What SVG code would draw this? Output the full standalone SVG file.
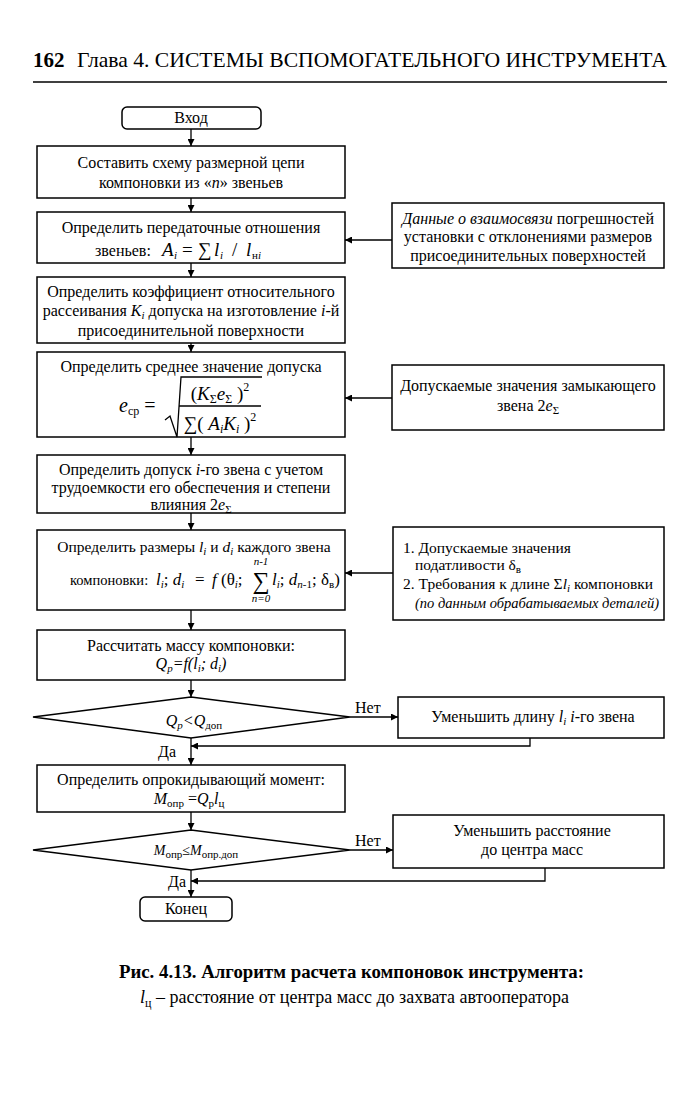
<svg xmlns="http://www.w3.org/2000/svg" width="694" height="1100" viewBox="0 0 694 1100">
<style>
text{font-family:"Liberation Serif","Times New Roman",serif;fill:#000}
.t{font-size:16px;text-anchor:middle}
.l{font-size:16px}
.it{font-style:italic}
.sub{font-size:11px}
.box{fill:#fff;stroke:#000;stroke-width:1.5}
.ln{fill:none;stroke:#000;stroke-width:1.3}
.m{font-size:19px}
</style>
<defs>
<marker id="ah" viewBox="0 0 10 10" refX="10" refY="5" markerWidth="8" markerHeight="7" markerUnits="userSpaceOnUse" orient="auto">
<path d="M0,0 L10,5 L0,10 z" fill="#000"/>
</marker>
</defs>
<rect width="694" height="1100" fill="#fff"/>
<g id="header">
<text x="33" y="67" style="font-size:21px;font-weight:bold">162</text>
<text x="77" y="67" style="font-size:21px" textLength="590" lengthAdjust="spacingAndGlyphs">Глава 4. СИСТЕМЫ ВСПОМОГАТЕЛЬНОГО ИНСТРУМЕНТА</text>
<line x1="33" y1="82" x2="667" y2="82" stroke="#000" stroke-width="1.5"/>
</g>
<g id="connectors">
<line class="ln" x1="191" y1="129" x2="191" y2="146" marker-end="url(#ah)"/>
<line class="ln" x1="191" y1="198" x2="191" y2="212" marker-end="url(#ah)"/>
<line class="ln" x1="191" y1="263" x2="191" y2="277" marker-end="url(#ah)"/>
<line class="ln" x1="191" y1="343" x2="191" y2="352" marker-end="url(#ah)"/>
<line class="ln" x1="191" y1="437" x2="191" y2="455" marker-end="url(#ah)"/>
<line class="ln" x1="191" y1="513" x2="191" y2="530" marker-end="url(#ah)"/>
<line class="ln" x1="191" y1="610" x2="191" y2="630" marker-end="url(#ah)"/>
<line class="ln" x1="191" y1="680" x2="191" y2="697" marker-end="url(#ah)"/>
<line class="ln" x1="191" y1="738" x2="191" y2="765" marker-end="url(#ah)"/>
<line class="ln" x1="191" y1="812" x2="191" y2="830" marker-end="url(#ah)"/>
<line class="ln" x1="191" y1="870" x2="191" y2="897" marker-end="url(#ah)"/>
<line class="ln" x1="392" y1="240" x2="345" y2="240" marker-end="url(#ah)"/>
<line class="ln" x1="392" y1="398" x2="345" y2="398" marker-end="url(#ah)"/>
<line class="ln" x1="393" y1="573" x2="345" y2="573" marker-end="url(#ah)"/>
<line class="ln" x1="350" y1="717" x2="398" y2="717" marker-end="url(#ah)"/>
<line class="ln" x1="350" y1="850" x2="393" y2="850" marker-end="url(#ah)"/>
<polyline class="ln" points="530,738 530,746 191,746" marker-end="url(#ah)"/>
<polyline class="ln" points="545,868 545,881 191,881" marker-end="url(#ah)"/>
<text class="l" x="355" y="713">Нет</text>
<text class="l" x="355" y="846">Нет</text>
<text class="l" x="158" y="757">Да</text>
<text class="l" x="168" y="887">Да</text>
</g>
<g id="start">
<rect class="box" x="122" y="107" width="139" height="22" rx="5"/>
<text class="t" x="191" y="123">Вход</text>
</g>
<g id="b1">
<rect class="box" x="37" y="146" width="308" height="52"/>
<text class="t" x="191" y="168">Составить схему размерной цепи</text>
<text class="t" x="191" y="188">компоновки из «<tspan class="it">n</tspan>» звеньев</text>
</g>
<g id="b2">
<rect class="box" x="37" y="212" width="308" height="51"/>
<text class="t" x="191" y="233">Определить передаточные отношения</text>
<text class="l" x="95" y="256">звеньев:</text>
<text class="m it" x="162" y="256">A</text>
<text class="sub it" x="174" y="259">i</text>
<text class="m" x="182" y="256">=</text>
<text class="m" x="198" y="256">∑</text>
<text class="m it" x="214" y="256">l</text>
<text class="sub it" x="220" y="259">i</text>
<text class="m" x="232" y="256">/</text>
<text class="m it" x="246" y="256">l</text>
<text class="sub" x="252" y="259">н<tspan class="it">i</tspan></text>
</g>
<g id="r1">
<rect class="box" x="392" y="203" width="272" height="65"/>
<text class="t" x="528" y="224"><tspan class="it">Данные о взаимосвязи</tspan> погрешностей</text>
<text class="t" x="528" y="242">установки с отклонениями размеров</text>
<text class="t" x="528" y="261">присоединительных поверхностей</text>
</g>
<g id="b3">
<rect class="box" x="37" y="277" width="308" height="66"/>
<text class="t" x="191" y="297">Определить коэффициент относительного</text>
<text class="t" x="191" y="316">рассеивания <tspan class="it">K</tspan><tspan class="it sub" dy="3">i</tspan><tspan dy="-3"> допуска на изготовление </tspan><tspan class="it">i</tspan>-й</text>
<text class="t" x="191" y="336">присоединительной поверхности</text>
</g>
<g id="b4">
<rect class="box" x="37" y="352" width="308" height="85"/>
<text class="t" x="191" y="372">Определить среднее значение допуска</text>
<text x="119" y="412" style="font-size:20px"><tspan class="it">e</tspan><tspan style="font-size:12px" dy="3">ср</tspan><tspan dy="-3"> =</tspan></text>
<polyline class="ln" points="165,420 170,416 177,437 181,377 262,377" stroke-width="1.2"/>
<line class="ln" x1="179" y1="406" x2="261" y2="406" stroke-width="1"/>
<text class="m" x="220" y="400" style="text-anchor:middle">(<tspan class="it">K</tspan><tspan style="font-size:12px" dy="3">Σ</tspan><tspan class="it" dy="-3">e</tspan><tspan style="font-size:12px" dy="3">Σ</tspan><tspan dy="-3"> )</tspan><tspan style="font-size:12px" dy="-9">2</tspan></text>
<text class="m" x="220" y="430" style="text-anchor:middle">∑( <tspan class="it">A</tspan><tspan class="it" style="font-size:12px" dy="3">i</tspan><tspan class="it" dy="-3">K</tspan><tspan class="it" style="font-size:12px" dy="3">i</tspan><tspan dy="-3"> )</tspan><tspan style="font-size:12px" dy="-9">2</tspan></text>
</g>
<g id="r2">
<rect class="box" x="392" y="365" width="272" height="65"/>
<text class="t" x="528" y="391">Допускаемые значения замыкающего</text>
<text class="t" x="528" y="411">звена 2<tspan class="it">e</tspan><tspan class="sub" dy="3">Σ</tspan></text>
</g>
<g id="b5">
<rect class="box" x="37" y="455" width="308" height="58"/>
<text class="t" x="191" y="475">Определить допуск <tspan class="it">i</tspan>-го звена с учетом</text>
<text class="t" x="191" y="493">трудоемкости его обеспечения и степени</text>
<text class="t" x="191" y="510">влияния 2<tspan class="it">e</tspan><tspan class="sub" dy="3">Σ</tspan></text>
</g>
<g id="b6">
<rect class="box" x="37" y="530" width="308" height="80"/>
<text class="t" x="194" y="552" style="font-size:15.5px">Определить размеры <tspan class="it">l</tspan><tspan class="it sub" dy="3">i</tspan><tspan dy="-3"> и </tspan><tspan class="it">d</tspan><tspan class="it sub" dy="3">i</tspan><tspan dy="-3"> каждого звена</tspan></text>
<text x="70" y="585" style="font-size:14.5px">компоновки:</text>
<text x="156" y="585" style="font-size:17px"><tspan class="it">l</tspan><tspan class="it sub" dy="3">i</tspan><tspan dy="-3">; </tspan><tspan class="it">d</tspan><tspan class="it sub" dy="3">i</tspan></text>
<text x="195" y="585" style="font-size:17px">=</text>
<text x="212" y="585" style="font-size:17px"><tspan class="it">f</tspan> (θ<tspan class="it sub" dy="3">i</tspan><tspan dy="-3">;</tspan></text>
<text x="261" y="589" style="font-size:24px;text-anchor:middle">∑</text>
<text x="261" y="565" class="it" style="font-size:11px;text-anchor:middle">n-1</text>
<text x="261" y="602" class="it" style="font-size:11px;text-anchor:middle">n=0</text>
<text x="272" y="585" style="font-size:17px"><tspan class="it">l</tspan><tspan class="it sub" dy="3">i</tspan><tspan dy="-3">; </tspan><tspan class="it">d</tspan><tspan class="it sub" dy="3">n</tspan><tspan class="sub">-1</tspan><tspan dy="-3">; δ</tspan><tspan class="sub" dy="3">в</tspan><tspan dy="-3">)</tspan></text>
</g>
<g id="r3">
<rect class="box" x="393" y="527" width="271" height="93"/>
<text x="403" y="553" style="font-size:15.5px">1. Допускаемые значения</text>
<text x="415" y="570" style="font-size:15.5px">податливости  δ<tspan class="sub" dy="3">в</tspan></text>
<text x="403" y="589" style="font-size:15.5px">2. Требования к длине Σ<tspan class="it">l</tspan><tspan class="it sub" dy="3">i</tspan><tspan dy="-3"> компоновки</tspan></text>
<text class="it" x="415" y="608" style="font-size:15.5px" textLength="244" lengthAdjust="spacingAndGlyphs">(по данным обрабатываемых деталей)</text>
</g>
<g id="b7">
<rect class="box" x="37" y="630" width="308" height="50"/>
<text class="t" x="191" y="651">Рассчитать массу компоновки:</text>
<text class="t it" x="191" y="669">Q<tspan class="sub" dy="3">р</tspan><tspan dy="-3">=f(l</tspan><tspan class="sub" dy="3">i</tspan><tspan dy="-3">; d</tspan><tspan class="sub" dy="3">i</tspan><tspan dy="-3">)</tspan></text>
</g>
<g id="d1">
<polygon class="box" points="33,717 191,697 350,717 191,738"/>
<text class="t it" x="194" y="726">Q<tspan class="sub" dy="3">р</tspan><tspan dy="-3">&lt;Q</tspan><tspan class="sub" dy="3" style="font-style:normal">доп</tspan></text>
</g>
<g id="r4">
<rect class="box" x="398" y="697" width="266" height="41"/>
<text class="t" x="533" y="722">Уменьшить длину <tspan class="it">l</tspan><tspan class="it sub" dy="3">i</tspan><tspan dy="-3"> </tspan><tspan class="it">i</tspan>-го звена</text>
</g>
<g id="b8">
<rect class="box" x="37" y="765" width="308" height="47"/>
<text class="t" x="191" y="785">Определить опрокидывающий момент:</text>
<text class="t" x="189" y="804"><tspan class="it">M</tspan><tspan class="sub" dy="3">опр</tspan><tspan dy="-3"> =</tspan><tspan class="it">Q</tspan><tspan class="sub" dy="3">р</tspan><tspan class="it" dy="-3">l</tspan><tspan class="sub" dy="3">ц</tspan></text>
</g>
<g id="d2">
<polygon class="box" points="33,850 191,830 350,850 191,870"/>
<text class="t" x="196" y="855" style="font-size:14px"><tspan class="it">M</tspan><tspan class="sub" dy="3">опр</tspan><tspan dy="-3">≤</tspan><tspan class="it">M</tspan><tspan class="sub" dy="3">опр.доп</tspan></text>
</g>
<g id="r5">
<rect class="box" x="393" y="815" width="271" height="53"/>
<text class="t" x="532" y="836">Уменьшить расстояние</text>
<text class="t" x="532" y="855">до центра масс</text>
</g>
<g id="end">
<rect class="box" x="140" y="897" width="92" height="24" rx="5"/>
<text class="t" x="186" y="914">Конец</text>
</g>
<g id="caption">
<text x="119" y="978" style="font-size:18px;font-weight:bold" textLength="465" lengthAdjust="spacingAndGlyphs">Рис. 4.13. Алгоритм расчета компоновок инструмента:</text>
<text x="140" y="1003" style="font-size:18px"><tspan class="it">l</tspan><tspan dy="4" style="font-size:12px">ц</tspan><tspan dy="-4"> – расстояние от центра масс до захвата автооператора</tspan></text>
</g>
</svg>
